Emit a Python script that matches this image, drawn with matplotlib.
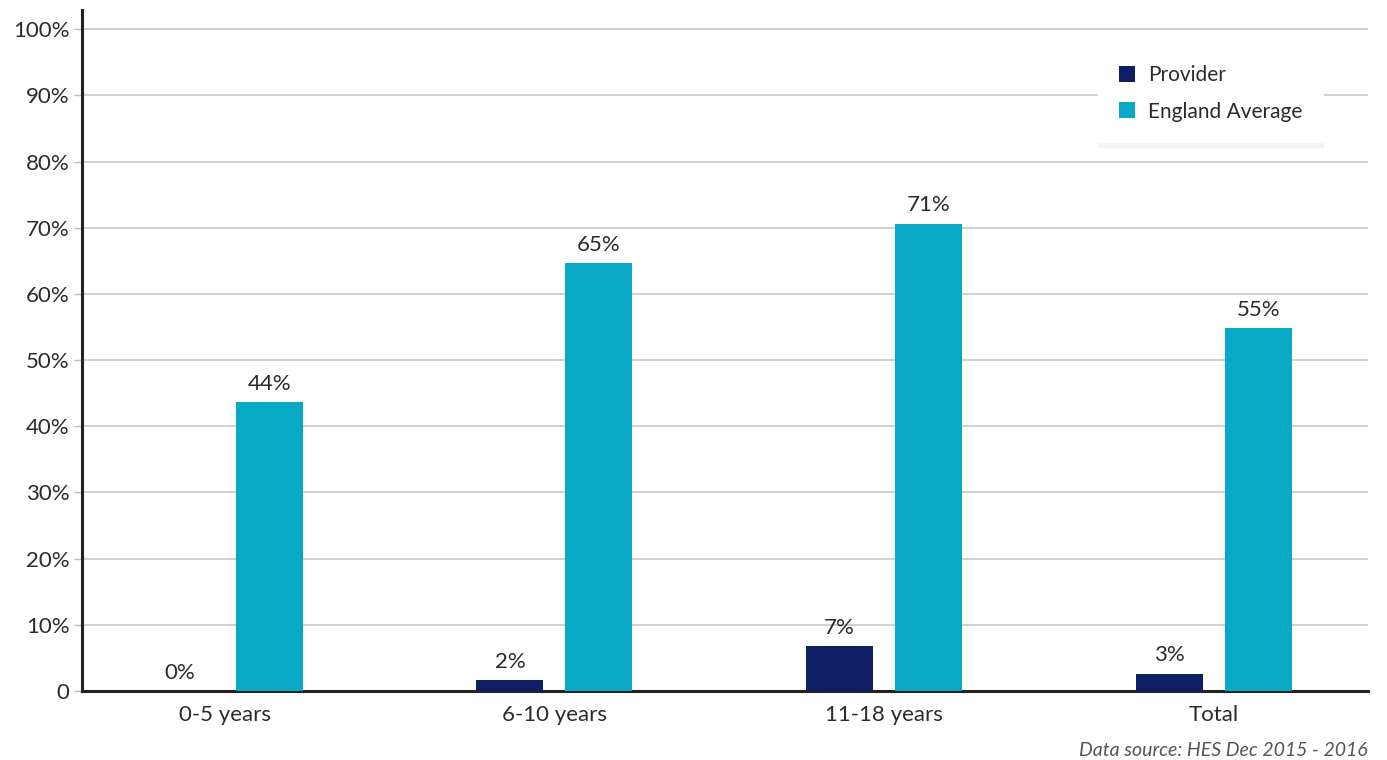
import numpy as np
import matplotlib.pyplot as plt

plt.rcParams['font.family'] = ['Lato', 'DejaVu Sans']

# data
categories = ['0-5 years', '6-10 years', '11-18 years', 'Total']
provider = [0.0, 1.6, 6.8, 2.6]
england = [43.6, 64.6, 70.6, 54.8]
series_names = ['Provider', 'England Average']
yticks = [0, 10, 20, 30, 40, 50, 60, 70, 80, 90, 100]
ytick_labels = ['0', '10%', '20%', '30%', '40%', '50%', '60%', '70%', '80%', '90%', '100%']

navy = '#0e1f66'
teal = '#07a9c5'
txt = '#2b2b2b'

fig = plt.figure(figsize=(13.87, 7.6), dpi=100)
ax = fig.add_axes([82/1387, 1 - 691/760, (1368-82)/1387, (691-10)/760])

x = np.arange(len(categories))
w = 0.203
off = 0.135
ax.bar(x - off, provider, w, color=navy, label=series_names[0], zorder=3)
ax.bar(x + off, england, w, color=teal, label=series_names[1], zorder=3)

for xi, v in zip(x, provider):
    ax.annotate(f'{v:.0f}%', (xi - off, v), xytext=(0, 6), textcoords='offset points',
                ha='center', va='bottom', fontsize=16, color=txt)
for xi, v in zip(x, england):
    ax.annotate(f'{v:.0f}%', (xi + off, v), xytext=(0, 6), textcoords='offset points',
                ha='center', va='bottom', fontsize=16, color=txt)

ax.set_xlim(-0.433, 3.468)
ax.set_ylim(0, 102.9)
ax.set_yticks(yticks)
ax.set_yticklabels(ytick_labels)
ax.set_xticks(x)
ax.set_xticklabels(categories)
ax.tick_params(axis='y', length=6, width=1, color='#bbbbbb', labelsize=16, labelcolor=txt, pad=3)
ax.tick_params(axis='x', length=0, labelsize=16, labelcolor=txt, pad=10)
ax.grid(axis='y', color='#c4c4c4', linewidth=1.1, zorder=0)

for s in ['top', 'right']:
    ax.spines[s].set_visible(False)
for s in ['left', 'bottom']:
    ax.spines[s].set_color('#222222')
    ax.spines[s].set_linewidth(2.2)

leg = ax.legend(loc='upper left', bbox_to_anchor=(0.790, 0.950), fontsize=15,
                frameon=True, fancybox=False, framealpha=1, edgecolor='white',
                shadow={'ox': 0, 'oy': -3, 'color': '#ececec'},
                handlelength=0.8, handleheight=0.8, handletextpad=0.6,
                borderpad=1.0, labelspacing=0.8, borderaxespad=0)
for t in leg.get_texts():
    t.set_color(txt)

fig.text(1368/1387, 1 - 750/760, 'Data source: HES Dec 2015 - 2016', ha='right', va='center',
         fontsize=14, style='italic', color='#555555')

fig.savefig('out.png', dpi=100)
